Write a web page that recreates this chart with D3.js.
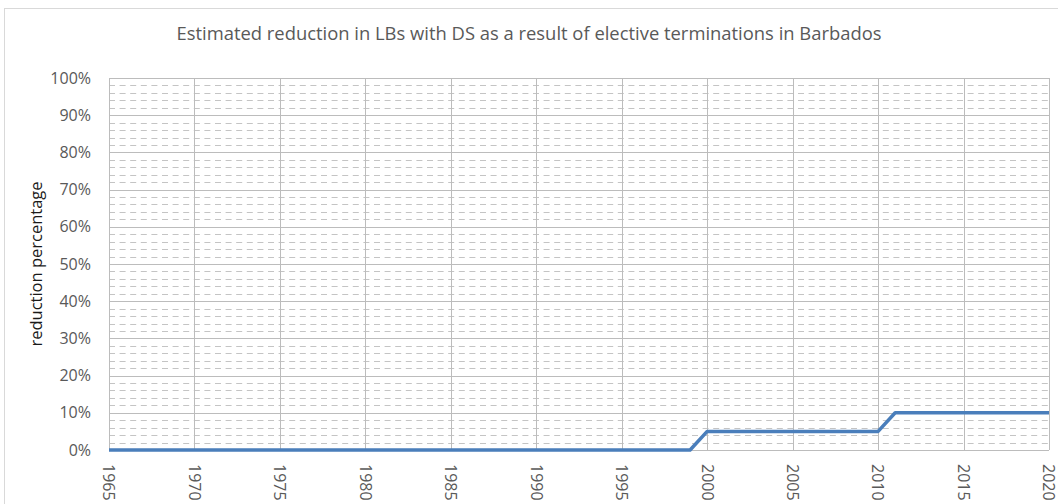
<!DOCTYPE html>
<head lang="en">
<meta charset="utf-8">
<title>Estimated reduction in LBs with DS</title>
<style>
body { margin:0; background:#fff; }
* { font-family:"Open Sans","sans-serif"; }
</style>
<script src="https://cdnjs.cloudflare.com/ajax/libs/d3/7.8.5/d3.min.js"></script>
</head>
<body>
<script>
// Data
var chartTitle = "Estimated reduction in LBs with DS as a result of elective terminations in Barbados";
var yTitle = "reduction percentage";
var years = [1965,1966,1967,1968,1969,1970,1971,1972,1973,1974,
	1975,1976,1977,1978,1979,1980,1981,1982,1983,1984,
	1985,1986,1987,1988,1989,1990,1991,1992,1993,1994,
	1995,1996,1997,1998,1999,2000,2001,2002,2003,2004,
	2005,2006,2007,2008,2009,2010,2011,2012,2013,2014,
	2015,2016,2017,2018,2019,2020];
var reduction = [0,0,0,0,0,0,0,0,0,0,
	0,0,0,0,0,0,0,0,0,0,
	0,0,0,0,0,0,0,0,0,0,
	0,0,0,0,0,0.05,0.05,0.05,0.05,0.05,
	0.05,0.05,0.05,0.05,0.05,0.05,0.1,0.1,0.1,0.1,
	0.1,0.1,0.1,0.1,0.1,0.1];
var xTicks = [1965,1970,1975,1980,1985,1990,1995,2000,2005,2010,2015,2020];
var yTicks = [0,0.1,0.2,0.3,0.4,0.5,0.6,0.7,0.8,0.9,1];
var yMinor = d3.range(0, 1.0001, 0.02);

var width = 1058,
	height = 504;
var plot = {left:109, right:1049, top:78, bottom:450};

var svg = d3.select("body").append("svg")
	.attr("width", width)
	.attr("height", height);

// chart border
svg.append("rect")
	.attr("x", 4.5).attr("y", 8.5)
	.attr("width", width).attr("height", height)
	.style("fill", "none")
	.style("stroke", "#d9d9d9")
	.style("stroke-width", "1px");

var x = d3.scaleLinear().domain([1965, 2020]).range([plot.left, plot.right]);
var y = d3.scaleLinear().domain([0, 1]).range([plot.bottom, plot.top]);

// minor dashed horizontal grid
svg.append("g").selectAll("line")
	.data(yMinor.filter(function(d) { return Math.round(d * 50) % 5 != 0; }))
	.enter().append("line")
		.attr("x1", plot.left).attr("x2", plot.right)
		.attr("y1", function(d) { return Math.round(y(d)) + 0.5; })
		.attr("y2", function(d) { return Math.round(y(d)) + 0.5; })
		.style("stroke", "#c4c4c4")
		.style("stroke-dasharray", "6,4.6");

// major grid
var gy = svg.append("g")
	.attr("transform", "translate(" + plot.left + ",0)")
	.call(d3.axisLeft(y).tickValues(yTicks).tickSize(-(plot.right - plot.left)).tickFormat(""));
var gx = svg.append("g")
	.attr("transform", "translate(0," + plot.bottom + ")")
	.call(d3.axisBottom(x).tickValues(xTicks).tickSize(-(plot.bottom - plot.top)).tickFormat(""));
[gy, gx].forEach(function(g) {
	g.select(".domain").remove();
	g.selectAll("line").style("stroke", "#bcbcbc").style("stroke-width", "1px");
});
gx.selectAll(".tick").attr("transform", function(d) { return "translate(" + (Math.round(x(d)) + 0.5) + ",0)"; });
gy.selectAll(".tick").attr("transform", function(d) { return "translate(0," + (Math.round(y(d)) + 0.5) + ")"; });

// y tick labels
svg.append("g").selectAll("text")
	.data(yTicks)
	.enter().append("text")
		.attr("x", 91)
		.attr("y", function(d) { return y(d); })
		.attr("dy", "0.35em")
		.attr("text-anchor", "end")
		.style("font-size", "16px")
		.style("fill", "#595959")
		.text(d3.format(".0%"));

// x tick labels, rotated
svg.append("g").selectAll("text")
	.data(xTicks)
	.enter().append("text")
		.attr("transform", function(d) { return "translate(" + x(d) + "," + (plot.bottom + 14) + ") rotate(90)"; })
		.attr("dy", "0.35em")
		.attr("text-anchor", "start")
		.style("font-size", "16px")
		.style("fill", "#595959")
		.text(function(d) { return d; });

// data line
var line = d3.line()
	.x(function(d, i) { return x(years[i]); })
	.y(function(d) { return y(d); });
svg.append("path")
	.datum(reduction)
	.attr("d", line)
	.style("fill", "none")
	.style("stroke", "#4a7ebb")
	.style("stroke-width", "3.5px")
	.style("stroke-linejoin", "round");

// titles
svg.append("text")
	.attr("x", 529)
	.attr("y", 40)
	.attr("text-anchor", "middle")
	.style("font-size", "18.4px")
	.style("fill", "#595959")
	.text(chartTitle);

svg.append("text")
	.attr("transform", "translate(42," + ((plot.top + plot.bottom) / 2) + ") rotate(-90)")
	.attr("text-anchor", "middle")
	.style("font-size", "16.5px")
	.style("fill", "#1a1a1a")
	.text(yTitle);
</script>
</body>
</html>
